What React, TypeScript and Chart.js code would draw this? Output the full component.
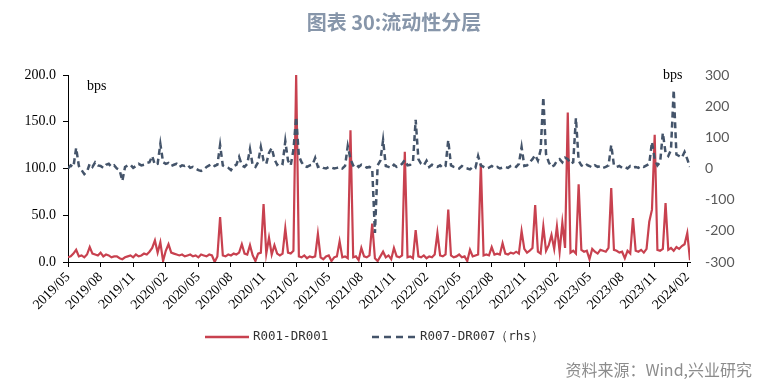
import React, { useEffect, useRef } from 'react';
import { Chart, registerables } from 'chart.js';

Chart.register(...registerables);

// X axis: months since 2019/05, data sampled about weekly (quarter month)
const tickLabels = [
  '2019/05', '2019/08', '2019/11', '2020/02', '2020/05', '2020/08', '2020/11',
  '2021/02', '2021/05', '2021/08', '2021/11', '2022/02', '2022/05', '2022/08',
  '2022/11', '2023/02', '2023/05', '2023/08', '2023/11', '2024/02',
];
const tickMonths = [0, 3, 6, 9, 12, 15, 18, 21, 24, 27, 30, 33, 36, 39, 42, 45, 48, 51, 54, 57];
const sampleStepMonths = 0.25;

// R001-DR001 (left axis, bps)
const r001 = [
  5, 6, 9, 13, 6, 7, 5, 8, 16, 9,
  8, 7, 10, 6, 8, 7, 5, 6, 6, 4,
  3, 5, 6, 7, 5, 8, 6, 7, 9, 8,
  11, 15, 23, 10, 21, 1, 12, 19, 10, 9,
  8, 7, 8, 6, 7, 8, 6, 7, 5, 8,
  7, 6, 8, 7, 0, 6, 48, 7, 6, 8,
  7, 9, 8, 10, 19, 9, 8, 18, 7, 1,
  9, 10, 62, 9, 26, 8, 18, 9, 7, 9,
  36, 10, 9, 12, 200, 6, 5, 7, 4, 6,
  5, 6, 30, 5, 3, 6, 7, 1, 5, 6,
  22, 5, 6, 4, 141, 5, 6, 2, 15, 6,
  5, 7, 41, 4, 1, 6, 11, 5, 7, 3,
  15, 6, 5, 7, 118, 5, 6, 4, 34, 6,
  5, 7, 4, 6, 5, 8, 31, 7, 6, 8,
  56, 7, 5, 6, 8, 5, 6, 1, 13, 6,
  7, 8, 105, 7, 8, 7, 16, 8, 9, 8,
  20, 9, 8, 10, 9, 11, 9, 33, 14, 10,
  12, 15, 61, 11, 9, 38, 12, 18, 29, 14,
  38, 11, 42, 15, 160, 10, 12, 9, 83, 13,
  11, 12, 3, 14, 11, 9, 13, 12, 11, 15,
  79, 13, 12, 10, 11, 4, 12, 9, 47, 12,
  11, 13, 10, 14, 43, 56, 136, 13, 12, 14,
  63, 13, 15, 12, 16, 14, 17, 19, 31, 2,
];

// R007-DR007 (right axis, bps)
const r007 = [
  0, 10, 5, 66, 8, -5, -18, -10, 15, 5,
  20, 10, 8, 2, 12, 15, 5, 10, 0, -5,
  -40, 5, 10, 12, 2, 8, 15, 10, 12, 18,
  20, 40, 12, 15, 79, 20, 15, 18, 8, 12,
  15, 5, 10, 8, 12, 2, 5, 0, -5, -8,
  -3, 5, 10, 15, 8, 12, 75, 10, 5, 2,
  -5, 8, 12, 37, 10, 5, 15, 62, 10, 5,
  20, 69, 25, 15, 50, 66, 30, 12, 20, 15,
  88, 25, 10, 60, 165, 40, 20, 8, 5, 10,
  12, 34, 5, 8, 2, 0, 5, 3, 0, 2,
  5, 0, 8, 72, 30, 10, 15, 5, 12, 8,
  3, 5, 0, -207, 10, 25, 91, 8, 5, 2,
  12, 5, 8, 15, 27, 10, 12, 20, 156, 30,
  15, 10, 25, 5, 12, 8, 5, 10, 2, 8,
  91, 10, 5, 3, 0, 8, 2, 0, -3, 5,
  2, 40, 10, 5, 0, 3, 8, 2, 5, 0,
  3, 5, 2, 8, 10, 5, 15, 69, 8, 10,
  20, 30, 43, 25, 59, 229, 46, 20, 5, 10,
  25, 30, 20, 35, 30, 15, 20, 162, 25, 10,
  5, 12, 8, 3, 10, 5, 8, 2, 5, 10,
  75, 10, 5, 8, 2, 5, 0, 8, 3, 5,
  2, 8, 5, 10, 15, 85, 30, 10, 20, 114,
  50, 40, 60, 252, 45, 40, 35, 53, 30, 5,
];

const RED = '#C8414F';
const BLUE = '#44546A';

const overlay = {
  id: 'overlay',
  afterDraw(chart: any) {
    const ctx = chart.ctx as CanvasRenderingContext2D;
    ctx.save();
    // title
    ctx.fillStyle = '#8796AA';
    ctx.font = 'bold 20px "Noto Sans CJK SC"';
    ctx.textAlign = 'center';
    ctx.textBaseline = 'middle';
    ctx.fillText('图表 30:流动性分层', 394, 22);
    // bps labels
    ctx.fillStyle = '#000';
    ctx.font = '14px "Liberation Serif"';
    ctx.textAlign = 'left';
    ctx.fillText('bps', 87, 86);
    ctx.fillText('bps', 663, 75);
    // legend
    ctx.font = '12.5px "DejaVu Sans Mono"';
    ctx.fillStyle = '#333';
    ctx.strokeStyle = RED;
    ctx.lineWidth = 2.5;
    ctx.beginPath();
    ctx.moveTo(205, 337);
    ctx.lineTo(249, 337);
    ctx.stroke();
    ctx.fillText('R001-DR001', 253, 337);
    ctx.strokeStyle = BLUE;
    ctx.setLineDash([7, 5]);
    ctx.beginPath();
    ctx.moveTo(372, 337);
    ctx.lineTo(416, 337);
    ctx.stroke();
    ctx.setLineDash([]);
    ctx.fillText('R007-DR007（rhs）', 420, 337);
    // source
    ctx.fillStyle = '#8C8C8C';
    ctx.font = '16px "Noto Sans CJK SC"';
    ctx.textAlign = 'right';
    ctx.fillText('资料来源：Wind,兴业研究', 752, 370);
    ctx.restore();
  },
};

export default function App() {
  const ref = useRef<HTMLCanvasElement>(null);
  useEffect(() => {
    document.body.style.margin = '0';
    const canvas = ref.current!;
    const chart = new Chart(canvas, {
      type: 'line',
      data: {
        datasets: [
          {
            label: 'R007-DR007（rhs）',
            data: r007.map((v, i) => ({ x: i * sampleStepMonths, y: v })),
            borderColor: BLUE,
            borderWidth: 2.5,
            borderDash: [6, 4],
            pointRadius: 0,
            tension: 0,
            yAxisID: 'y1',
            order: 0,
          },
          {
            label: 'R001-DR001',
            data: r001.map((v, i) => ({ x: i * sampleStepMonths, y: v })),
            borderColor: RED,
            borderWidth: 2.2,
            pointRadius: 0,
            tension: 0,
            yAxisID: 'y',
            order: 1,
          },
        ],
      },
      options: {
        responsive: false,
        animation: false,
        layout: { padding: { top: 75, left: 0, right: 0, bottom: 0 } },
        plugins: {
          legend: { display: false },
          title: { display: false },
          tooltip: { enabled: false },
        },
        scales: {
          x: {
            type: 'linear',
            min: 0,
            max: 57.25,
            afterBuildTicks: (s: any) => {
              s.ticks = tickMonths.map((v) => ({ value: v }));
            },
            afterFit: (s: any) => {
              s.height = 125;
            },
            ticks: {
              autoSkip: false,
              minRotation: 45,
              maxRotation: 45,
              padding: 2,
              color: '#000',
              font: { family: 'Liberation Serif', size: 14 },
              callback: (v: any) => {
                const k = tickMonths.indexOf(Number(v));
                return k >= 0 ? tickLabels[k] : '';
              },
            },
            grid: { drawOnChartArea: false, drawTicks: true, tickLength: 5, color: '#000' },
            border: { display: true, color: '#000', width: 1 },
          },
          y: {
            position: 'left',
            min: 0,
            max: 200,
            afterFit: (s: any) => {
              s.width = 68;
            },
            ticks: {
              stepSize: 50,
              padding: 7,
              color: '#000',
              font: { family: 'Liberation Serif', size: 14 },
              callback: (v: any) => Number(v).toFixed(1),
            },
            grid: { drawOnChartArea: false, drawTicks: true, tickLength: 5, color: '#000' },
            border: { display: true, color: '#000', width: 1 },
          },
          y1: {
            position: 'right',
            min: -300,
            max: 300,
            afterFit: (s: any) => {
              s.width = 78;
            },
            ticks: {
              stepSize: 100,
              padding: 15,
              color: '#595959',
              font: { family: 'Lato', size: 14 },
            },
            grid: { display: false, drawTicks: false },
            border: { display: false },
          },
        },
      },
      plugins: [overlay],
    } as any);
    return () => chart.destroy();
  }, []);
  return <canvas ref={ref} width={768} height={387} style={{ display: 'block' }} />;
}
